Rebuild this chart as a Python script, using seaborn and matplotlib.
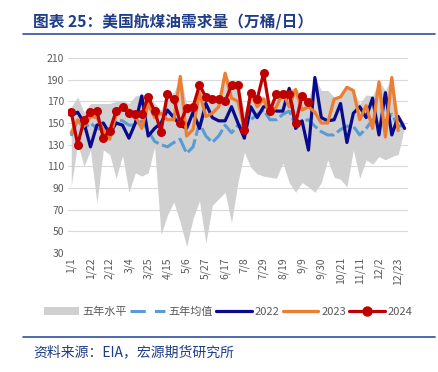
import numpy as np
import pandas as pd
import matplotlib
matplotlib.use("Agg")
import matplotlib.pyplot as plt
from matplotlib.lines import Line2D
from matplotlib.patches import Patch
import seaborn as sns

# weekly data, 53 weeks
weeks = list(range(53))
tick_labels = ["1/1", "1/22", "2/12", "3/4", "3/25", "4/15", "5/6", "5/27", "6/17",
               "7/8", "7/29", "8/19", "9/9", "9/30", "10/21", "11/11", "12/2", "12/23"]

max5 = [165, 174, 160, 168, 168, 168, 168, 170, 171, 168, 175, 176, 176, 168, 162, 177, 178, 193,
        168, 168, 185, 176, 172, 175, 196, 186, 186, 160, 180, 174, 175, 168, 178, 180, 182, 182,
        176, 172, 193, 180, 180, 174, 176, 184, 180, 168, 176, 175, 189, 180, 193, 158, 150]
min5 = [92, 131, 110, 125, 76, 125, 121, 99, 120, 86, 104, 101, 104, 128, 47, 65, 77, 58,
        36, 62, 78, 39, 74, 80, 86, 58, 95, 123, 109, 103, 101, 100, 99, 113, 95, 86,
        95, 91, 86, 95, 116, 100, 98, 91, 125, 99, 116, 112, 119, 116, 119, 121, 146]
avg5 = [138, 153, 145, 150, 145, 144, 142, 153, 152, 148, 148, 152, 143, 133, 130, 128, 132, 135,
        122, 128, 150, 138, 132, 138, 148, 141, 148, 147, 153, 158, 162, 153, 153, 158, 161, 148,
        152, 153, 147, 142, 139, 139, 144, 147, 147, 139, 145, 153, 150, 152, 158, 147, 148]
y2022 = [157, 160, 150, 128, 148, 150, 140, 150, 148, 136, 150, 175, 138, 145, 150, 162, 155, 148,
         145, 160, 145, 168, 155, 152, 152, 165, 150, 136, 165, 155, 165, 165, 161, 161, 182, 145,
         152, 125, 192, 155, 152, 153, 168, 132, 159, 165, 155, 173, 139, 178, 139, 156, 145]
y2023 = [141, 153, 147, 156, 155, 144, 135, 158, 165, 162, 156, 145, 168, 155, 159, 153, 153, 193,
         138, 144, 178, 156, 159, 165, 196, 173, 170, 145, 178, 165, 172, 158, 165, 178, 165, 181,
         162, 165, 160, 150, 150, 172, 174, 183, 180, 153, 166, 145, 188, 137, 192, 143]
y2024 = [160, 130, 153, 160, 161, 136, 143, 161, 165, 159, 158, 158, 174, 161, 142, 177, 172, 150,
         164, 165, 185, 174, 172, 172, 170, 185, 185, 144, 178, 172, 196, 161, 177, 177, 177, 150,
         175, 169]

c_fill = "#D0D0D0"
c_avg = "#5B9BD5"
c_22 = "#0A0A8C"
c_23 = "#ED7D31"
c_24 = "#C00000"
c_txt = "#595959"
c_title = "#1F3C88"

sns.set_style("white")
plt.rcParams["font.family"] = ["Noto Sans CJK SC", "DejaVu Sans"]

fig = plt.figure(figsize=(4.39, 3.72), dpi=100)
ax = fig.add_axes([0.155, 0.320, 0.774, 0.524])

ax.fill_between(weeks, min5, max5, color=c_fill, linewidth=0, zorder=1)
ax.plot(weeks, avg5, color=c_avg, lw=2.2, dashes=(5, 1.2), zorder=2)
sns.lineplot(x=weeks, y=y2022, color=c_22, lw=2.3, ax=ax, zorder=3)
sns.lineplot(x=weeks[:len(y2023)], y=y2023, color=c_23, lw=2.3, ax=ax, zorder=4)
sns.lineplot(x=weeks[:len(y2024)], y=y2024, color=c_24, lw=2.3, marker="o",
             markersize=6.5, markeredgewidth=0, ax=ax, zorder=5)

ax.set_xlim(-0.5, 52.5)
ax.set_ylim(30, 210)
ax.set_yticks(range(30, 211, 20))
ax.set_xticks(weeks[0:52:3])
ax.set_xticklabels(tick_labels, rotation=90)
ax.grid(axis="y", color="#D9D9D9", lw=0.8, zorder=0)
ax.set_axisbelow(True)
for s in ax.spines.values():
    s.set_visible(False)
ax.tick_params(axis="both", length=0, labelsize=7.5, colors=c_txt, pad=3)

handles = [Patch(facecolor=c_fill, edgecolor="none"),
           Line2D([], [], color=c_avg, lw=2.2, dashes=(5, 3)),
           Line2D([], [], color=c_22, lw=2.3),
           Line2D([], [], color=c_23, lw=2.3),
           Line2D([], [], color=c_24, lw=2.3, marker="o", markersize=6.5)]
labels = ["五年水平", "五年均值", "2022", "2023", "2024"]
fig.legend(handles, labels, loc="center", bbox_to_anchor=(0.52, 0.163), ncol=5,
           frameon=False, fontsize=8, handlelength=3.2, handletextpad=0.3,
           columnspacing=0.25, labelcolor=c_txt)

fig.text(0.075, 0.94, "图表 25：美国航煤油需求量（万桶/日）", fontsize=11.3,
         fontweight="bold", color=c_title, va="center")
fig.add_artist(Line2D([0.053, 0.99], [0.909, 0.909], color="#2F4F9F", lw=1.2))
fig.add_artist(Line2D([0.053, 0.99], [0.094, 0.094], color="#2F4F9F", lw=1.2))
fig.text(0.075, 0.052, "资料来源：EIA，宏源期货研究所", fontsize=10,
         color=c_title, va="center", style="italic")

fig.savefig("out.png", dpi=100)
